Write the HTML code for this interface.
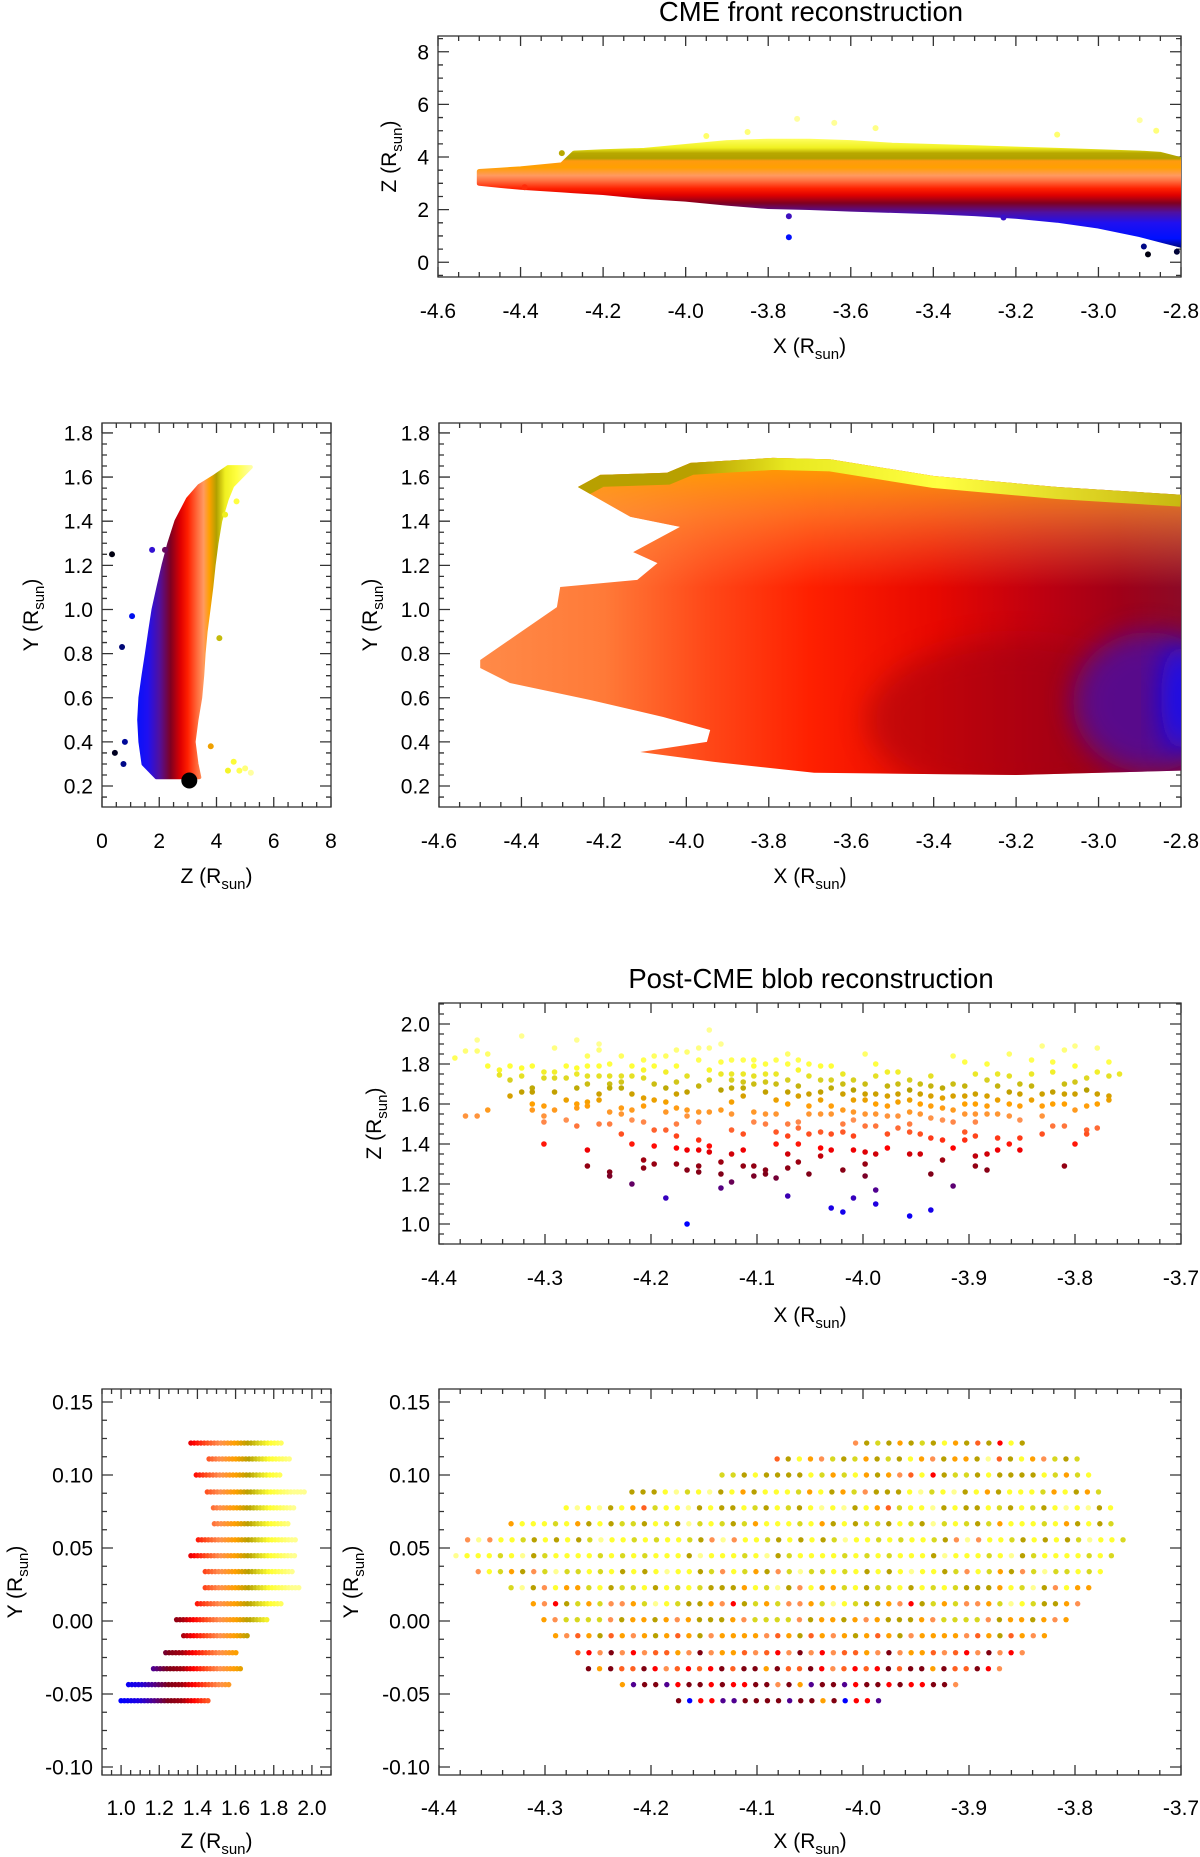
<!DOCTYPE html>
<html><head><meta charset="utf-8">
<style>
html,body{margin:0;padding:0;background:#fff;}
svg{display:block;font-family:"Liberation Sans",Arial,sans-serif;}
</style></head>
<body>
<svg id="fig" width="1200" height="1857" viewBox="0 0 1200 1857" xmlns="http://www.w3.org/2000/svg">
<defs id="defs"></defs>
</svg>
<script>
// ===== Data: CME front, X-Z view =====
const p1X   = [-4.5,-4.45,-4.4,-4.3,-4.27,-4.2,-4.1,-4.0,-3.9,-3.8,-3.7,-3.6,-3.5,-3.4,-3.3,-3.2,-3.1,-3.0,-2.9,-2.85,-2.8];
const p1Top = [3.45,3.5,3.55,3.7,4.15,4.2,4.25,4.4,4.55,4.6,4.6,4.55,4.45,4.4,4.35,4.3,4.25,4.2,4.15,4.1,3.9];
const p1Bot = [3.0,2.92,2.85,2.75,2.72,2.65,2.5,2.4,2.25,2.12,2.08,2.02,1.97,1.92,1.85,1.75,1.6,1.38,1.05,0.85,0.65];
const p1OutX = [-3.75,-3.75,-3.23,-2.88,-2.81,-2.89,-3.73,-3.64,-2.9,-2.86,-4.3,-4.39,-3.54,-3.1,-3.85,-3.95];
const p1OutZ = [1.75,0.95,1.7,0.3,0.4,0.6,5.45,5.3,5.4,5.0,4.15,2.85,5.1,4.85,4.95,4.8];
const p1XTicks = [-4.6,-4.4,-4.2,-4.0,-3.8,-3.6,-3.4,-3.2,-3.0,-2.8];
const p1XLabels = ['-4.6','-4.4','-4.2','-4.0','-3.8','-3.6','-3.4','-3.2','-3.0','-2.8'];
const p1YTicks = [0,2,4,6,8];
const p1YLabels = ['0','2','4','6','8'];

// ===== Data: CME front, Z-Y view =====
const p2lY  = [0.24,0.3,0.4,0.5,0.6,0.7,0.8,0.9,1.0,1.1,1.2,1.3,1.4,1.5,1.56,1.6,1.645];
const p2lZL = [1.9,1.45,1.34,1.3,1.34,1.45,1.57,1.68,1.8,1.97,2.15,2.35,2.6,3.0,3.4,3.9,4.4];
const p2lZR = [3.4,3.3,3.2,3.3,3.43,3.5,3.55,3.62,3.72,3.82,3.9,4.0,4.13,4.36,4.55,4.85,5.2];
const p2lOutZ = [0.35,1.05,0.7,4.1,0.45,0.75,0.8,4.6,5.2,4.8,3.8,4.7,4.3,1.75,2.2,5.0,4.4];
const p2lOutY = [1.25,0.97,0.83,0.87,0.35,0.3,0.4,0.31,0.26,0.27,0.38,1.49,1.43,1.27,1.27,0.28,0.27];
const p2lXTicks = [0,2,4,6,8];
const p2lXLabels = ['0','2','4','6','8'];
const p2YTicks = [0.2,0.4,0.6,0.8,1.0,1.2,1.4,1.6,1.8];
const p2YLabels = ['0.2','0.4','0.6','0.8','1.0','1.2','1.4','1.6','1.8'];

// ===== Data: CME front, X-Y view (outline) =====
const p2rX = [-4.263,-4.209,-4.047,-3.99,-3.79,-3.65,-3.4,-3.1,-2.8,-2.8,-3.2,-3.69,-3.935,-4.112,-3.95,-3.942,-4.056,-4.233,-4.428,-4.5,-4.5,-4.314,-4.306,-4.119,-4.07,-4.129,-4.015,-4.136];
const p2rY = [1.555,1.61,1.62,1.664,1.687,1.68,1.605,1.555,1.52,0.27,0.25,0.26,0.31,0.354,0.4,0.454,0.513,0.59,0.667,0.735,0.771,1.011,1.102,1.134,1.21,1.26,1.374,1.42];

// ===== Data: Post-CME blob, X-Z view (columns) =====
const blobColX = [-4.385,-4.375,-4.364,-4.354,-4.343,-4.333,-4.322,-4.312,-4.301,-4.291,-4.280,-4.270,-4.260,-4.249,-4.239,-4.228,-4.218,-4.207,-4.197,-4.186,-4.176,-4.166,-4.155,-4.145,-4.134,-4.124,-4.113,-4.103,-4.092,-4.082,-4.071,-4.061,-4.051,-4.040,-4.030,-4.019,-4.009,-3.998,-3.988,-3.977,-3.967,-3.956,-3.946,-3.936,-3.925,-3.915,-3.904,-3.894,-3.883,-3.873,-3.862,-3.852,-3.841,-3.831,-3.821,-3.810,-3.800,-3.789,-3.779,-3.768,-3.758];
const blobColZ = [
[1.83],[1.865,1.54],[1.92,1.865,1.54],[1.85,1.79,1.57],[1.77,1.745],[1.79,1.72,1.64],
[1.94,1.78,1.74,1.66],[1.79,1.68,1.66,1.60,1.57],[1.76,1.73,1.59,1.54,1.51,1.40],[1.88,1.76,1.73,1.66,1.57],
[1.79,1.73,1.62,1.52],[1.92,1.78,1.75,1.68,1.60,1.58,1.49],[1.84,1.79,1.74,1.70,1.61,1.59,1.37,1.29],
[1.90,1.87,1.79,1.74,1.65,1.62,1.50],[1.80,1.74,1.70,1.68,1.56,1.50,1.26,1.24],[1.84,1.74,1.71,1.68,1.58,1.55,1.45],
[1.79,1.74,1.65,1.57,1.52,1.40,1.20],[1.82,1.77,1.73,1.63,1.59,1.51,1.32,1.28],[1.84,1.79,1.70,1.62,1.47,1.39,1.30],
[1.84,1.76,1.68,1.61,1.56,1.47,1.13],[1.87,1.79,1.71,1.65,1.58,1.50,1.44,1.38,1.30],[1.86,1.74,1.66,1.57,1.54,1.37,1.27,1.00],
[1.88,1.82,1.69,1.56,1.51,1.42,1.37,1.29,1.26],[1.97,1.88,1.77,1.72,1.56,1.39,1.36],[1.90,1.81,1.75,1.67,1.57,1.31,1.25,1.18],
[1.82,1.75,1.72,1.68,1.61,1.55,1.47,1.35,1.21],[1.82,1.75,1.71,1.68,1.64,1.45,1.37,1.29],[1.82,1.79,1.74,1.70,1.56,1.51,1.29,1.24],
[1.80,1.75,1.71,1.66,1.55,1.50,1.27,1.25],[1.82,1.75,1.70,1.62,1.55,1.46,1.40,1.23],[1.85,1.80,1.72,1.66,1.60,1.50,1.44,1.35,1.28,1.14],
[1.82,1.77,1.69,1.64,1.51,1.48,1.40,1.31],[1.80,1.74,1.65,1.59,1.55,1.45,1.25],[1.79,1.72,1.66,1.62,1.55,1.46,1.38,1.34],
[1.79,1.72,1.68,1.59,1.55,1.45,1.37,1.08],[1.75,1.70,1.65,1.57,1.50,1.46,1.27,1.06],[1.72,1.67,1.62,1.56,1.52,1.44,1.37,1.13],
[1.85,1.70,1.65,1.62,1.55,1.49,1.36,1.30,1.24],[1.80,1.74,1.65,1.60,1.55,1.49,1.35,1.17,1.10],[1.76,1.69,1.64,1.59,1.54,1.45,1.38],
[1.76,1.70,1.65,1.61,1.54,1.48],[1.72,1.67,1.62,1.56,1.50,1.46,1.35,1.04],[1.70,1.65,1.60,1.55,1.45,1.35],
[1.74,1.69,1.64,1.59,1.53,1.43,1.25,1.07],[1.68,1.63,1.58,1.52,1.42,1.32],[1.84,1.70,1.64,1.57,1.51,1.38,1.19],
[1.81,1.69,1.64,1.60,1.55,1.46,1.42],[1.75,1.65,1.60,1.55,1.51,1.44,1.34,1.29],[1.80,1.72,1.64,1.59,1.55,1.35,1.27],
[1.75,1.69,1.62,1.55,1.43,1.37],[1.85,1.74,1.66,1.60,1.54,1.40],[1.70,1.65,1.59,1.52,1.43,1.37],
[1.82,1.75,1.69,1.62],[1.89,1.65,1.59,1.54,1.45],[1.81,1.76,1.66,1.60,1.49],
[1.87,1.70,1.65,1.60,1.49,1.29],[1.89,1.79,1.71,1.65,1.57,1.40],[1.73,1.67,1.59,1.47,1.45],
[1.88,1.76,1.65,1.60,1.48],[1.81,1.74,1.64,1.62],[1.75]
];
const p3XTicks = [-4.4,-4.3,-4.2,-4.1,-4.0,-3.9,-3.8,-3.7];
const p3XLabels = ['-4.4','-4.3','-4.2','-4.1','-4.0','-3.9','-3.8','-3.7'];
const p3YTicks = [1.0,1.2,1.4,1.6,1.8,2.0];
const p3YLabels = ['1.0','1.2','1.4','1.6','1.8','2.0'];

// ===== Data: Post-CME blob, grid rows =====
const rowY = [0.1219,0.111,0.100,0.0884,0.0775,0.0666,0.0556,0.0447,0.0338,0.0228,0.0118,0.0009,-0.0101,-0.0217,-0.0327,-0.0436,-0.0546];
const rowZStart = [1.366,1.461,1.394,1.452,1.484,1.489,1.405,1.366,1.441,1.441,1.400,1.291,1.328,1.234,1.170,1.039,1.000];
const rowZEnd   = [1.848,1.890,1.834,1.963,1.916,1.890,1.922,1.925,1.902,1.937,1.850,1.771,1.675,1.602,1.628,1.576,1.461];
const rowXStart = [-4.007,-4.081,-4.133,-4.218,-4.280,-4.332,-4.373,-4.384,-4.363,-4.332,-4.311,-4.301,-4.290,-4.269,-4.259,-4.227,-4.174];
const rowXEnd   = [-3.849,-3.795,-3.784,-3.774,-3.764,-3.764,-3.753,-3.764,-3.774,-3.784,-3.795,-3.805,-3.827,-3.848,-3.869,-3.910,-3.984];
const rowColors = ["SGKGOGKGYOGRGDYG","RGYOSKGKOGKGYOSGOOGL","KKGYGGGGYKOKYOGOSRYDG","GGGYLKYLGYOGYYYKOYGOKS","YLYLGYORKYYLGYGGYKGYKG","OYYYKYOGYGKKGYKGLKYKGK","SLSYYKGYGYGKLYYKYKYYKG","LYYYKYLGKYYYYKYKYKYYYG","SYKOGSKLKKYKYGYGYLYYGK","KLGSYOOKYGKKYGYKYKGGGOY","OSDGKOKSSOKLYKGG","OSKKKKSGOOGOSOGGG","OSROGROSOGOROGSOOO","RDSMSDSRROSMSOORS","MOMRRMDSRDRDMRM","OPMMPDMMDMDDMMSM","MBDDPPMMMMPMMO"];
const p4lXTicks = [1.0,1.2,1.4,1.6,1.8,2.0];
const p4lXLabels = ['1.0','1.2','1.4','1.6','1.8','2.0'];
const p4YTicks = [-0.10,-0.05,0.00,0.05,0.10,0.15];
const p4YLabels = ['-0.10','-0.05','0.00','0.05','0.10','0.15'];

// ===== styling =====
const frontStops = [[0.4,'#000010'],[1.1,'#0010ff'],[1.6,'#2010f0'],[2.0,'#5010a0'],[2.4,'#800020'],[2.75,'#e00000'],[3.0,'#ff2000'],[3.35,'#ff7040'],[3.55,'#ff9a60'],[3.75,'#ffa000'],[4.0,'#b0a000'],[4.3,'#f0f020'],[4.7,'#ffff40'],[5.2,'#ffffa0']];
const front1Stops = [[0.3,'#000010'],[0.9,'#0010ff'],[1.5,'#2010f0'],[1.9,'#5010a0'],[2.25,'#800020'],[2.55,'#e00000'],[2.8,'#ff2000'],[3.1,'#ff7040'],[3.3,'#ff9a60'],[3.6,'#ffa000'],[3.85,'#ff9a10'],[3.95,'#b0a000'],[4.15,'#b8a800'],[4.35,'#f0f020'],[4.7,'#ffff60'],[5.4,'#ffffa0']];
const blobStops = [[1.0,'#0000ff'],[1.1,'#2000e0'],[1.17,'#500090'],[1.25,'#800018'],[1.32,'#a00010'],[1.38,'#ff0000'],[1.45,'#ff5020'],[1.52,'#ff9050'],[1.6,'#ffa000'],[1.67,'#b8a000'],[1.72,'#d8d020'],[1.78,'#ffff30'],[1.9,'#ffff90']];
const palette = {Y:'#ffff30',L:'#ffff90',G:'#b8a000',K:'#d8d820',O:'#ffa000',S:'#ff9050',R:'#ff6020',D:'#ff0000',M:'#800010',P:'#500090',B:'#0000ff'};

const NS = 'http://www.w3.org/2000/svg';
const svg = document.getElementById('fig');
const defs = document.getElementById('defs');
function mk(tag, parent){ const e=document.createElementNS(NS,tag); parent.appendChild(e); return e; }
function sc(d0,d1,r0,r1){ return v => r0 + (v-d0)/(d1-d0)*(r1-r0); }
function hex2rgb(h){ return [parseInt(h.substr(1,2),16),parseInt(h.substr(3,2),16),parseInt(h.substr(5,2),16)]; }
function colorAt(stops,v){
  if(v<=stops[0][0]) return stops[0][1];
  for(let i=1;i<stops.length;i++){
    if(v<=stops[i][0]){
      const t=(v-stops[i-1][0])/(stops[i][0]-stops[i-1][0]);
      const a=hex2rgb(stops[i-1][1]), b=hex2rgb(stops[i][1]);
      return 'rgb('+a.map((c,k)=>Math.round(c+(b[k]-c)*t)).join(',')+')';
    }
  }
  return stops[stops.length-1][1];
}
function gradient(id,stops,x1,y1,x2,y2){
  const g=mk('linearGradient',defs);
  g.setAttribute('id',id); g.setAttribute('gradientUnits','userSpaceOnUse');
  g.setAttribute('x1',x1); g.setAttribute('y1',y1); g.setAttribute('x2',x2); g.setAttribute('y2',y2);
  const lo=stops[0][0], hi=stops[stops.length-1][0];
  stops.forEach(s=>{ const st=mk('stop',g); st.setAttribute('offset',(s[0]-lo)/(hi-lo)); st.setAttribute('stop-color',s[1]); });
}

function axisTitle(g,x,y,main,rot){
  const t=mk('text',g);
  t.setAttribute('font-size','21');
  t.setAttribute('fill','#000');
  if(rot){ t.setAttribute('transform','translate('+x+','+y+') rotate(-90)'); t.setAttribute('text-anchor','middle'); }
  else { t.setAttribute('x',x); t.setAttribute('y',y); t.setAttribute('text-anchor','middle'); }
  t.appendChild(document.createTextNode(main+' (R'));
  const s=mk('tspan',t); s.setAttribute('font-size','15'); s.setAttribute('dy','6'); s.textContent='sun';
  const e=mk('tspan',t); e.setAttribute('dy','-6'); e.textContent=')';
  return t;
}

function axes(name,p){
  const g=mk('g',svg);
  
  
  const sx=sc(p.xd[0],p.xd[1],p.x0,p.x1), sy=sc(p.yd[0],p.yd[1],p.y1,p.y0);
  const fr=mk('rect',g);
  
  
  fr.setAttribute('x',p.x0); fr.setAttribute('y',p.y0); fr.setAttribute('width',p.x1-p.x0); fr.setAttribute('height',p.y1-p.y0);
  fr.setAttribute('fill','none'); fr.setAttribute('stroke','#333'); fr.setAttribute('stroke-width','1.3');
  let d='';
  const eps=1e-9;
  for(let v=Math.ceil((p.xd[0]-eps)/p.xm)*p.xm; v<=p.xd[1]+eps; v+=p.xm){
    const X=sx(v); d+='M'+X+' '+p.y1+'v-5M'+X+' '+p.y0+'v5';
  }
  for(let v=Math.ceil((p.yd[0]-eps)/p.ym)*p.ym; v<=p.yd[1]+eps; v+=p.ym){
    const Y=sy(v); d+='M'+p.x0+' '+Y+'h5M'+p.x1+' '+Y+'h-5';
  }
  p.xt.forEach(v=>{ const X=sx(v); d+='M'+X+' '+p.y1+'v-10M'+X+' '+p.y0+'v10'; });
  p.yt.forEach(v=>{ const Y=sy(v); d+='M'+p.x0+' '+Y+'h11M'+p.x1+' '+Y+'h-11'; });
  const tk=mk('path',g);
  
  
  tk.setAttribute('d',d); tk.setAttribute('stroke','#333'); tk.setAttribute('stroke-width','1.3'); tk.setAttribute('fill','none');
  p.xt.forEach((v,i)=>{
    const t=mk('text',g);
    
    
    t.setAttribute('x',sx(v)); t.setAttribute('y',p.xly); t.setAttribute('font-size','21'); t.setAttribute('text-anchor','middle');
    t.textContent=p.xl[i];
  });
  p.yt.forEach((v,i)=>{
    const t=mk('text',g);
    
    
    t.setAttribute('x',p.x0-9); t.setAttribute('y',sy(v)+7.5); t.setAttribute('font-size','21'); t.setAttribute('text-anchor','end');
    t.textContent=p.yl[i];
  });
  const xt=axisTitle(g,(p.x0+p.x1)/2,p.xty,p.xtitle,false);
  
  
  const yt=axisTitle(g,p.ytx,(p.y0+p.y1)/2,p.ytitle,true);
  
  
  return {sx,sy,g};
}
function title(txt,x,y,name){
  const t=mk('text',svg);
  
  
  t.setAttribute('x',x); t.setAttribute('y',y); t.setAttribute('font-size','27.5'); t.setAttribute('text-anchor','middle');
  t.textContent=txt;
}
function clip(id,x0,y0,x1,y1){
  const c=mk('clipPath',defs); c.setAttribute('id',id);
  const r=mk('rect',c); r.setAttribute('x',x0); r.setAttribute('y',y0); r.setAttribute('width',x1-x0); r.setAttribute('height',y1-y0);
}
function dot(g,x,y,r,fill,name){
  const c=mk('circle',g);
  
  
  c.setAttribute('cx',x.toFixed(2)); c.setAttribute('cy',y.toFixed(2)); c.setAttribute('r',r); c.setAttribute('fill',fill);
}

(function(){ const f=mk('filter',defs); f.setAttribute('id','blur6'); f.setAttribute('x','-50%'); f.setAttribute('y','-50%'); f.setAttribute('width','200%'); f.setAttribute('height','200%');
 const b=mk('feGaussianBlur',f); b.setAttribute('stdDeviation','14'); })();

// ===== Panel 1 =====
title('CME front reconstruction',811,21,'cme-front-title');
const P1={x0:438,x1:1181,y0:36,y1:277,xd:[-4.6,-2.8],yd:[-0.56,8.6],xm:0.05,ym:0.5,xt:p1XTicks,xl:p1XLabels,yt:p1YTicks,yl:p1YLabels,xly:318,xty:353,ytx:396,xtitle:'X',ytitle:'Z'};
const a1=axes('front-xz',P1);
clip('c1',P1.x0,P1.y0,P1.x1,P1.y1);
gradient('g1',front1Stops,0,a1.sy(front1Stops[0][0]),0,a1.sy(front1Stops[front1Stops.length-1][0]));
{
  const g=mk('g',svg); g.setAttribute('clip-path','url(#c1)');
  
  
  let pts=p1X.map((x,i)=>a1.sx(x).toFixed(1)+','+a1.sy(p1Top[i]).toFixed(1));
  for(let i=p1X.length-1;i>=0;i--) pts.push(a1.sx(p1X[i]).toFixed(1)+','+a1.sy(p1Bot[i]).toFixed(1));
  const pg=mk('polygon',g);
  
  
  pg.setAttribute('points',pts.join(' ')); pg.setAttribute('fill','url(#g1)'); pg.setAttribute('stroke','url(#g1)'); pg.setAttribute('stroke-width','5'); pg.setAttribute('stroke-linejoin','round');
  p1OutX.forEach((x,i)=>dot(g,a1.sx(x),a1.sy(p1OutZ[i]),3,colorAt(front1Stops,p1OutZ[i]),'front-xz-outlier'));
}

// ===== Panel 2 left =====
const P2L={x0:102,x1:331,y0:423,y1:807,xd:[0,8],yd:[0.105,1.845],xm:0.5,ym:0.05,xt:p2lXTicks,xl:p2lXLabels,yt:p2YTicks,yl:p2YLabels,xly:848,xty:883,ytx:38,xtitle:'Z',ytitle:'Y'};
const a2l=axes('front-zy',P2L);
clip('c2l',P2L.x0,P2L.y0,P2L.x1,P2L.y1);
gradient('g2l',frontStops,a2l.sx(frontStops[0][0]),0,a2l.sx(frontStops[frontStops.length-1][0]),0);
{
  const g=mk('g',svg); g.setAttribute('clip-path','url(#c2l)');
  
  
  let pts=p2lY.map((y,i)=>a2l.sx(p2lZL[i]).toFixed(1)+','+a2l.sy(y).toFixed(1));
  for(let i=p2lY.length-1;i>=0;i--) pts.push(a2l.sx(p2lZR[i]).toFixed(1)+','+a2l.sy(p2lY[i]).toFixed(1));
  const pg=mk('polygon',g);
  
  
  pg.setAttribute('points',pts.join(' ')); pg.setAttribute('fill','url(#g2l)'); pg.setAttribute('stroke','url(#g2l)'); pg.setAttribute('stroke-width','4'); pg.setAttribute('stroke-linejoin','round');
  p2lOutZ.forEach((z,i)=>dot(g,a2l.sx(z),a2l.sy(p2lOutY[i]),3,colorAt(frontStops,z),'front-zy-outlier'));
  const sun=mk('circle',g);
  
  
  sun.setAttribute('cx',a2l.sx(3.05)); sun.setAttribute('cy',a2l.sy(0.225)); sun.setAttribute('r','8'); sun.setAttribute('fill','#000');
}

// ===== Panel 2 right =====
const P2R={x0:439,x1:1181,y0:423,y1:807,xd:[-4.6,-2.8],yd:[0.105,1.845],xm:0.05,ym:0.05,xt:p1XTicks,xl:p1XLabels,yt:p2YTicks,yl:p2YLabels,xly:848,xty:883,ytx:377,xtitle:'X',ytitle:'Y'};
const a2r=axes('front-xy',P2R);
{
  const sx=a2r.sx, sy=a2r.sy;
  const pts=p2rX.map((x,i)=>sx(x).toFixed(1)+','+sy(p2rY[i]).toFixed(1)).join(' ');
  const cp=mk('clipPath',defs); cp.setAttribute('id','c2r');
  const cpp=mk('polygon',cp); cpp.setAttribute('points',pts);
  gradient('g2rh',[[0,'#ff8a48'],[0.3,'#ff7a38'],[0.55,'#ff4818'],[0.8,'#ff2000'],[1.1,'#e80800'],[1.35,'#c00010'],[1.55,'#a00018'],[1.8,'#801030']],sx(-4.5),0,sx(-2.7),0);
  const gv=mk('linearGradient',defs); gv.setAttribute('id','g2rv'); gv.setAttribute('gradientUnits','userSpaceOnUse');
  gv.setAttribute('x1',0); gv.setAttribute('x2',0); gv.setAttribute('y1',sy(1.65)); gv.setAttribute('y2',sy(1.1));
  [[0,'#ffa000',0.95],[0.4,'#ff9a30',0.6],[1,'#ff9050',0]].forEach(s=>{const st=mk('stop',gv); st.setAttribute('offset',s[0]); st.setAttribute('stop-color',s[1]); st.setAttribute('stop-opacity',s[2]);});
  const g=mk('g',svg); g.setAttribute('clip-path','url(#c2r)');
  
  
  const base=mk('rect',g); base.setAttribute('x',P2R.x0); base.setAttribute('y',P2R.y0); base.setAttribute('width',P2R.x1-P2R.x0); base.setAttribute('height',P2R.y1-P2R.y0); base.setAttribute('fill','url(#g2rh)');
  const ov=mk('rect',g); ov.setAttribute('x',P2R.x0); ov.setAttribute('y',P2R.y0); ov.setAttribute('width',P2R.x1-P2R.x0); ov.setAttribute('height',P2R.y1-P2R.y0); ov.setAttribute('fill','url(#g2rv)');
  const dk=mk('ellipse',g); dk.setAttribute('cx',sx(-3.2)); dk.setAttribute('cy',sy(0.5)); dk.setAttribute('rx',150); dk.setAttribute('ry',80); dk.setAttribute('fill','#900018'); dk.setAttribute('opacity','0.45'); dk.setAttribute('filter','url(#blur6)');
  const pu=mk('ellipse',g); pu.setAttribute('cx',sx(-2.88)); pu.setAttribute('cy',sy(0.58)); pu.setAttribute('rx',75); pu.setAttribute('ry',70); pu.setAttribute('fill','#4a10a8'); pu.setAttribute('opacity','0.8'); pu.setAttribute('filter','url(#blur6)');
  const bl=mk('ellipse',g); bl.setAttribute('cx',sx(-2.8)); bl.setAttribute('cy',sy(0.6)); bl.setAttribute('rx',20); bl.setAttribute('ry',55); bl.setAttribute('fill','#1010ff'); bl.setAttribute('opacity','0.85'); bl.setAttribute('filter','url(#blur6)');
  gradient('g2rs',[[0,'#b8a000'],[0.2,'#b8a000'],[0.35,'#e8e820'],[0.6,'#ffff40'],[1,'#c8b810']],sx(-4.27),0,sx(-2.8),0);
  const strip=mk('polyline',g);
  
  
  strip.setAttribute('points',p2rX.slice(0,9).map((x,i)=>sx(x).toFixed(1)+','+sy(p2rY[i]).toFixed(1)).join(' '));
  strip.setAttribute('fill','none'); strip.setAttribute('stroke','url(#g2rs)'); strip.setAttribute('stroke-width','24');
}

// ===== Panel 3 =====
title('Post-CME blob reconstruction',811,988,'blob-title');
const P3={x0:439,x1:1181,y0:1003,y1:1244,xd:[-4.4,-3.7],yd:[0.9,2.105],xm:0.02,ym:0.05,xt:p3XTicks,xl:p3XLabels,yt:p3YTicks,yl:p3YLabels,xly:1285,xty:1322,ytx:381,xtitle:'X',ytitle:'Z'};
const a3=axes('blob-xz',P3);
{
  const g=mk('g',svg);
  
  
  blobColX.forEach((x,i)=>blobColZ[i].forEach(z=>dot(g,a3.sx(x),a3.sy(z),2.8,colorAt(blobStops,z),'blob-xz-point')));
}

// ===== Panel 4 left =====
const P4L={x0:102,x1:331,y0:1389,y1:1775,xd:[0.9,2.1],yd:[-0.1055,0.1589],xm:0.05,ym:0.0125,xt:p4lXTicks,xl:p4lXLabels,yt:p4YTicks,yl:p4YLabels,xly:1815,xty:1848,ytx:22,xtitle:'Z',ytitle:'Y'};
const a4l=axes('blob-zy',P4L);
{
  const g=mk('g',svg);
  
  
  rowY.forEach((y,i)=>{
    for(let z=rowZStart[i]; z<=rowZEnd[i]+1e-6; z+=0.0175){
      dot(g,a4l.sx(z),a4l.sy(y),2.7,colorAt(blobStops,z),'blob-zy-point');
    }
  });
}

// ===== Panel 4 right =====
const P4R={x0:439,x1:1181,y0:1389,y1:1775,xd:[-4.4,-3.7],yd:[-0.1055,0.1589],xm:0.02,ym:0.0125,xt:p3XTicks,xl:p3XLabels,yt:p4YTicks,yl:p4YLabels,xly:1815,xty:1848,ytx:358,xtitle:'X',ytitle:'Y'};
const a4r=axes('blob-xy',P4R);
{
  const g=mk('g',svg);
  
  
  rowY.forEach((y,i)=>{
    let k=0;
    for(let x=rowXStart[i]; x<=rowXEnd[i]+1e-6; x+=0.01048){
      const s=rowColors[i];
      dot(g,a4r.sx(x),a4r.sy(y),2.7,palette[s[k%s.length]],'blob-xy-point');
      k++;
    }
  });
}
</script>
</body></html>
